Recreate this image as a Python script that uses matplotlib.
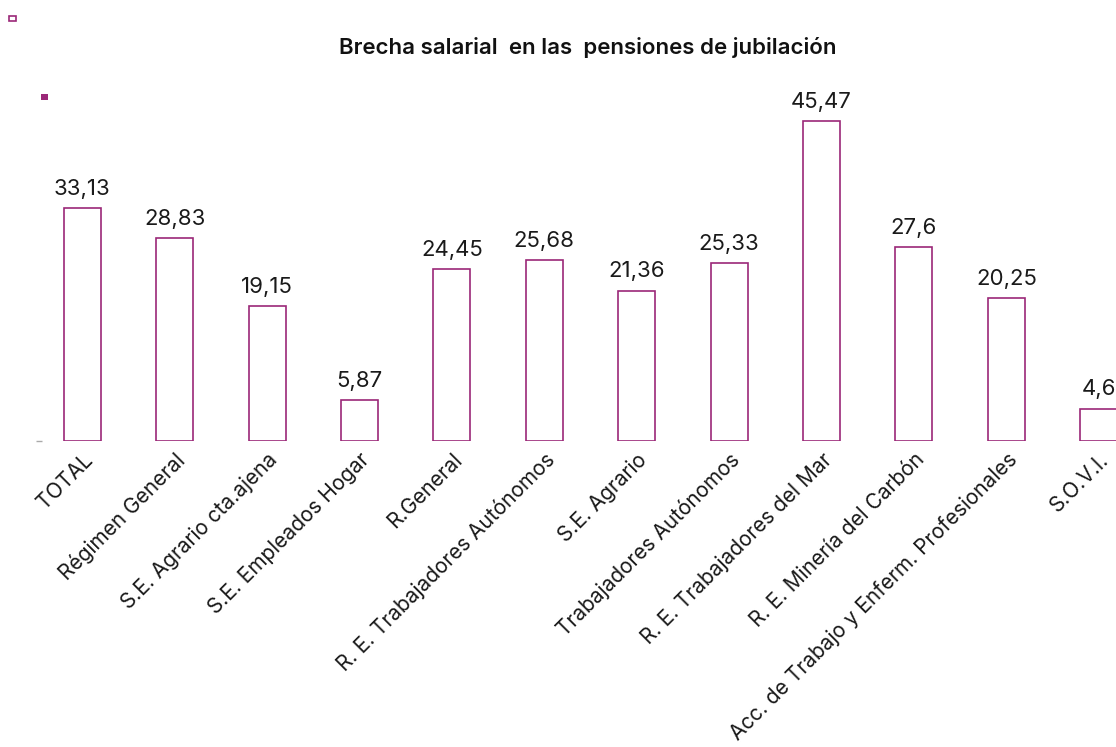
import matplotlib.pyplot as plt
from matplotlib.patches import Rectangle

categorias = ['TOTAL', 'Régimen General', 'S.E. Agrario cta.ajena', 'S.E. Empleados Hogar',
              'R.General', 'R. E. Trabajadores Autónomos', 'S.E. Agrario',
              'Trabajadores Autónomos', 'R. E. Trabajadores del Mar',
              'R. E. Minería del Carbón', 'Acc. de Trabajo y Enferm. Profesionales', 'S.O.V.I.']
brecha = [33.13, 28.83, 19.15, 5.87, 24.45, 25.68, 21.36, 25.33, 45.47, 27.6, 20.25, 4.6]
etiquetas = ['33,13', '28,83', '19,15', '5,87', '24,45', '25,68', '21,36', '25,33',
             '45,47', '27,6', '20,25', '4,6']

morado = '#9b2878'
plt.rcParams['font.family'] = ['Inter', 'DejaVu Sans']

W, H = 1116, 747
fig = plt.figure(figsize=(W / 100, H / 100), dpi=100)
# axes runs past the right border, so the last bar is cut like in the original
left, right = 36, 1145
bottom, top = 441, 89
ax = fig.add_axes([left / W, 1 - bottom / H, (right - left) / W, (bottom - top) / H])

x = range(len(categorias))
ax.bar(x, brecha, width=0.4, color='white', edgecolor=morado, linewidth=1.2)
for i, v in enumerate(brecha):
    ax.text(i, v + 1.3, etiquetas[i], ha='center', va='bottom', fontsize=16, color='#1a1a1a')

ax.set_xlim(-0.5, len(categorias) - 0.5)
ax.set_ylim(0, 50)
ax.set_xticks(list(x))
ax.set_xticklabels(categorias, rotation=45, ha='right', rotation_mode='anchor',
                   fontsize=15, color='#1a1a1a')
ax.tick_params(axis='x', length=0, pad=6)
ax.set_yticks([0])
ax.set_yticklabels([''])
ax.tick_params(axis='y', direction='in', length=4.3, color='#aaaaaa', width=1)
for s in ax.spines.values():
    s.set_visible(False)

fig.text(588 / W, 1 - 47 / H, 'Brecha salarial  en las  pensiones de jubilación',
         ha='center', va='center', fontsize=16, fontweight='semibold', color='#111111')

# leftover legend markers in the corner
fig.patches.append(Rectangle((9 / W, 1 - 21 / H), 7 / W, 5 / H, transform=fig.transFigure,
                             facecolor='white', edgecolor=morado, linewidth=1.2))
fig.patches.append(Rectangle((41 / W, 1 - 100 / H), 7 / W, 6 / H, transform=fig.transFigure,
                             facecolor=morado, edgecolor='none'))

fig.savefig('out.png', dpi=100)
